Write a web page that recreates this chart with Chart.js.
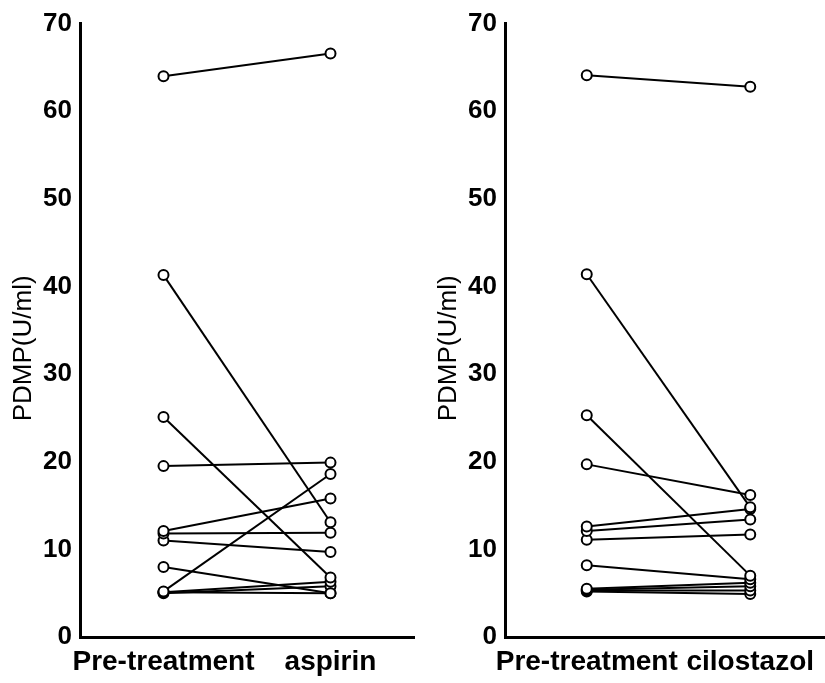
<!DOCTYPE html>
<html>
<head>
<meta charset="utf-8">
<script src="https://cdn.jsdelivr.net/npm/chart.js@4"></script>
<style>
    html, body { margin: 0; padding: 0; background: #fff; overflow: hidden; }
    body { width: 825px; height: 683px; position: relative; }
    .panel { position: absolute; top: 0; }
</style>
</head>
<body>
<canvas id="aspirinChart" class="panel" style="left:0px" width="421" height="683"></canvas>
<canvas id="cilostazolChart" class="panel" style="left:425px" width="414" height="683"></canvas>
<script>
// paired PDMP values (U/ml), one entry per patient
const aspirinLabels = ['Pre-treatment', 'aspirin'];
const aspirinPre  = [64.0, 41.3, 25.1, 19.5, 12.1, 11.8, 11.0, 8.0, 5.2, 5.1, 5.0, 5.1];
const aspirinPost = [66.6, 13.1, 6.8, 19.9, 15.8, 11.9, 9.7, 5.0, 18.6, 6.3, 5.8, 5.0];

const cilostazolLabels = ['Pre-treatment', 'cilostazol'];
const cilostazolPre  = [64.1, 41.4, 25.3, 19.7, 12.6, 12.1, 11.1, 8.2, 5.5, 5.4, 5.3, 5.2];
const cilostazolPost = [62.8, 14.8, 7.0, 16.2, 14.6, 13.4, 11.7, 6.6, 6.2, 5.8, 5.3, 4.9];

const yTicks = [0, 10, 20, 30, 40, 50, 60, 70];

const FONT = "'Liberation Sans', Arial, sans-serif";
// trailing spaces push the rotated title a bit below the axis centre, like the original
const Y_TITLE = 'PDMP(U/ml)     ';

function buildDatasets(pre, post) {
    return pre.map((v, i) => ({
        data: [v, post[i]],
        borderColor: '#000',
        borderWidth: 2,
        pointRadius: 5,
        pointBorderWidth: 2,
        pointBorderColor: '#000',
        pointBackgroundColor: '#fff',
        tension: 0
    }));
}

function makeChart(canvasId, labels, pre, post) {
    const ctx = document.getElementById(canvasId).getContext('2d');
    return new Chart(ctx, {
        type: 'line',
        data: {
            labels: labels,
            datasets: buildDatasets(pre, post)
        },
        options: {
            responsive: false,
            animation: false,
            devicePixelRatio: 1,
            layout: { padding: { top: 17, right: 0, bottom: 0, left: 0 } },
            plugins: {
                legend: { display: false },
                tooltip: { enabled: false }
            },
            scales: {
                x: {
                    type: 'category',
                    offset: true,
                    grid: { display: false, drawTicks: false, tickLength: 0 },
                    border: { display: true, color: '#000', width: 3 },
                    ticks: {
                        color: '#000',
                        autoSkip: false,
                        maxRotation: 0,
                        padding: 8,
                        font: { family: FONT, size: 28, weight: 'bold' }
                    },
                    afterFit: function(scale) { scale.height = 46; }
                },
                y: {
                    min: 0,
                    max: 70,
                    afterBuildTicks: function(scale) {
                        scale.ticks = yTicks.map(v => ({ value: v }));
                    },
                    grid: { display: false, drawTicks: false, tickLength: 0 },
                    border: { display: true, color: '#000', width: 3 },
                    ticks: {
                        color: '#000',
                        padding: 8,
                        font: { family: FONT, size: 26, weight: 'bold' }
                    },
                    title: {
                        display: true,
                        text: Y_TITLE,
                        color: '#000',
                        padding: { top: 8, bottom: 0 },
                        font: { family: FONT, size: 26 }
                    },
                    afterFit: function(scale) { scale.width = 80; }
                }
            }
        }
    });
}

makeChart('aspirinChart', aspirinLabels, aspirinPre, aspirinPost);
makeChart('cilostazolChart', cilostazolLabels, cilostazolPre, cilostazolPost);
</script>
</body>
</html>
